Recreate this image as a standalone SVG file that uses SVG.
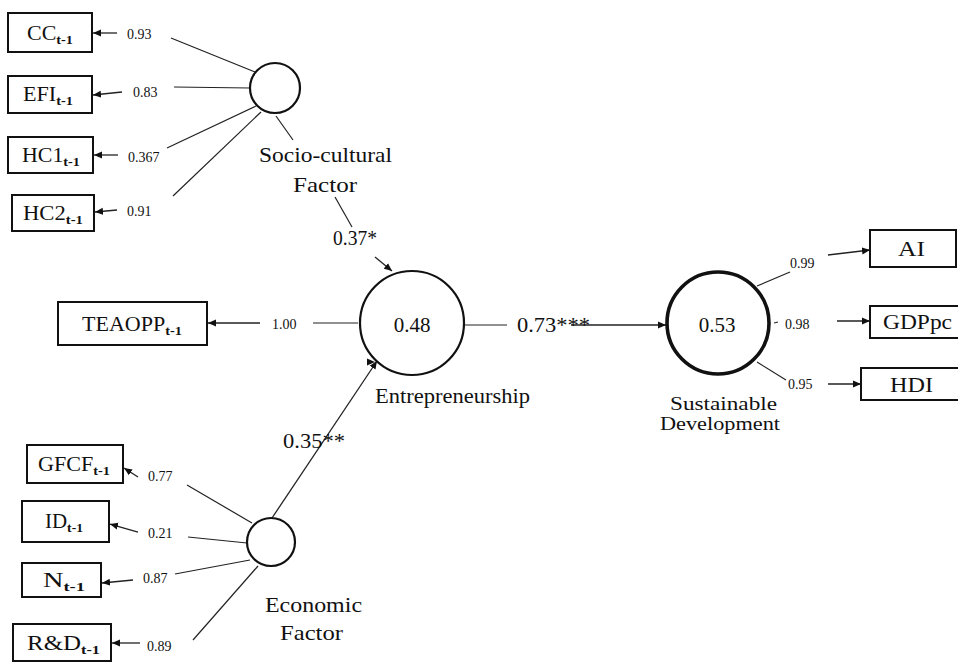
<svg xmlns="http://www.w3.org/2000/svg" width="958" height="663" viewBox="0 0 958 663">
<style>
.box{fill:#fff;stroke:#111;stroke-width:2}
.lat{fill:#fff;stroke:#111;stroke-width:2.2}
.latb{fill:#fff;stroke:#111;stroke-width:3.6}
.ln{stroke:#222;stroke-width:1.2;fill:none}
.arr{stroke:#222;stroke-width:1.3;fill:none;marker-end:url(#ah)}
.bt{font-family:"Liberation Serif","Times New Roman",serif;font-size:20px;fill:#111}
.sub{font-size:13px;font-weight:bold}
.sm{font-family:"Liberation Serif","Times New Roman",serif;font-size:14px;fill:#111}
.md{font-family:"Liberation Serif","Times New Roman",serif;font-size:21px;fill:#111}
</style>
<defs>
<marker id="ah" markerWidth="9" markerHeight="8" refX="8" refY="4" orient="auto" markerUnits="userSpaceOnUse">
<path d="M0,0.5 L8,4 L0,7.5 Z" fill="#111"/>
</marker>
</defs>
<rect width="958" height="663" fill="#fff"/>
<g id="connectors">
<!-- socio-cultural -->
<line class="arr" x1="117" y1="33" x2="93" y2="33"/>
<line class="ln" x1="171" y1="38" x2="255" y2="72"/>
<line class="arr" x1="122" y1="92" x2="93" y2="95"/>
<line class="ln" x1="174" y1="87" x2="250" y2="88"/>
<line class="arr" x1="118" y1="155" x2="94" y2="155"/>
<line class="ln" x1="167" y1="148" x2="256" y2="106"/>
<line class="arr" x1="117" y1="210" x2="95" y2="212"/>
<line class="ln" x1="173" y1="196" x2="261" y2="112"/>
<line class="ln" x1="276" y1="116" x2="293" y2="140"/>
<line class="ln" x1="335" y1="197" x2="352" y2="227"/>
<line class="arr" x1="375" y1="257" x2="392" y2="271"/>
<!-- TEAOPP -->
<line class="arr" x1="260" y1="323" x2="208" y2="323"/>
<line class="ln" x1="313" y1="323" x2="358" y2="323"/>
<!-- entre to SD -->
<line class="ln" x1="465" y1="325" x2="507" y2="325"/>
<line class="arr" x1="571" y1="325" x2="666" y2="325"/>
<!-- SD indicators -->
<line class="ln" x1="757" y1="286" x2="790" y2="272"/>
<line class="arr" x1="828" y1="255" x2="870" y2="250"/>
<line class="ln" x1="774" y1="323" x2="778" y2="322"/>
<line class="arr" x1="837" y1="321" x2="870" y2="321"/>
<line class="ln" x1="757" y1="362" x2="786" y2="380"/>
<line class="arr" x1="828" y1="384" x2="861" y2="384"/>
<!-- economic -->
<line class="arr" x1="375" y1="362" x2="375" y2="362"/>
<line class="arr" x1="272" y1="518" x2="377" y2="361"/>
<line class="arr" x1="138" y1="477" x2="124" y2="468"/>
<line class="ln" x1="187" y1="485" x2="252" y2="523"/>
<line class="arr" x1="138" y1="532" x2="110" y2="524"/>
<line class="ln" x1="188" y1="537" x2="247" y2="543"/>
<line class="arr" x1="133" y1="580" x2="102" y2="583"/>
<line class="ln" x1="175" y1="574" x2="250" y2="560"/>
<line class="arr" x1="140" y1="643" x2="112" y2="643"/>
<line class="ln" x1="193" y1="640" x2="258" y2="566"/>
</g>
<g id="labels">
<text class="sm" x="127" y="39">0.93</text>
<text class="sm" x="133" y="97">0.83</text>
<text class="sm" x="128" y="162">0.367</text>
<text class="sm" x="127" y="216">0.91</text>
<text class="md" x="333" y="245" textLength="44" lengthAdjust="spacingAndGlyphs">0.37*</text>
<text class="sm" x="272" y="329">1.00</text>
<text class="md" x="517" y="332" textLength="73" lengthAdjust="spacingAndGlyphs">0.73***</text>
<text class="sm" x="790" y="268">0.99</text>
<text class="sm" x="785" y="329">0.98</text>
<text class="sm" x="788" y="389">0.95</text>
<text class="md" x="283" y="448" textLength="62" lengthAdjust="spacingAndGlyphs">0.35**</text>
<text class="sm" x="148" y="481">0.77</text>
<text class="sm" x="148" y="538">0.21</text>
<text class="sm" x="143" y="583">0.87</text>
<text class="sm" x="147" y="651">0.89</text>
</g>
<g id="CC"><rect class="box" x="8" y="13" width="84" height="39"/><text class="bt" x="27" y="40" textLength="46" lengthAdjust="spacingAndGlyphs">CC<tspan class="sub" dy="4">t-1</tspan></text></g>
<g id="EFI"><rect class="box" x="8" y="76" width="84" height="37"/><text class="bt" x="23" y="101" textLength="50" lengthAdjust="spacingAndGlyphs">EFI<tspan class="sub" dy="4">t-1</tspan></text></g>
<g id="HC1"><rect class="box" x="8" y="137" width="85" height="36"/><text class="bt" x="22" y="162" textLength="58" lengthAdjust="spacingAndGlyphs">HC1<tspan class="sub" dy="4">t-1</tspan></text></g>
<g id="HC2"><rect class="box" x="12" y="195" width="82" height="36"/><text class="bt" x="23" y="220" textLength="60" lengthAdjust="spacingAndGlyphs">HC2<tspan class="sub" dy="4">t-1</tspan></text></g>
<g id="socio"><circle class="lat" cx="275" cy="88" r="25"/>
<text class="md" x="259" y="162" textLength="133" lengthAdjust="spacingAndGlyphs">Socio-cultural</text>
<text class="md" x="293" y="192" textLength="64" lengthAdjust="spacingAndGlyphs">Factor</text></g>
<g id="TEAOPP"><rect class="box" x="58" y="302" width="149" height="43"/><text class="bt" x="82" y="331" textLength="100" lengthAdjust="spacingAndGlyphs">TEAOPP<tspan class="sub" dy="4">t-1</tspan></text></g>
<g id="entrepreneurship"><circle class="lat" cx="412" cy="323" r="52"/>
<text class="md" x="412" y="332" text-anchor="middle">0.48</text>
<text class="md" x="375" y="403" textLength="155" lengthAdjust="spacingAndGlyphs">Entrepreneurship</text></g>
<g id="sustainable"><circle class="latb" cx="718" cy="323" r="51"/>
<text class="md" x="717" y="332" text-anchor="middle">0.53</text>
<text class="md" x="670" y="410" textLength="107" lengthAdjust="spacingAndGlyphs" style="font-size:19px">Sustainable</text>
<text class="md" x="660" y="430" textLength="120" lengthAdjust="spacingAndGlyphs" style="font-size:19px">Development</text></g>
<g id="AI"><rect class="box" x="870" y="230" width="86" height="37"/><text class="bt" x="898" y="256" textLength="27" lengthAdjust="spacingAndGlyphs">AI</text></g>
<g id="GDPpc"><rect class="box" x="870" y="306" width="92" height="32"/><text class="bt" x="883" y="329" textLength="69" lengthAdjust="spacingAndGlyphs">GDPpc</text></g>
<g id="HDI"><rect class="box" x="861" y="368" width="100" height="32"/><text class="bt" x="890" y="392" textLength="43" lengthAdjust="spacingAndGlyphs">HDI</text></g>
<g id="economic"><circle class="lat" cx="271" cy="542" r="24"/>
<text class="md" x="265" y="612" textLength="97" lengthAdjust="spacingAndGlyphs">Economic</text>
<text class="md" x="280" y="640" textLength="63" lengthAdjust="spacingAndGlyphs">Factor</text></g>
<g id="GFCF"><rect class="box" x="27" y="445" width="96" height="38"/><text class="bt" x="38" y="471" textLength="72" lengthAdjust="spacingAndGlyphs">GFCF<tspan class="sub" dy="4">t-1</tspan></text></g>
<g id="ID"><rect class="box" x="22" y="501" width="87" height="41"/><text class="bt" x="45" y="528" textLength="38" lengthAdjust="spacingAndGlyphs">ID<tspan class="sub" dy="4">t-1</tspan></text></g>
<g id="N"><rect class="box" x="22" y="563" width="79" height="34"/><text class="bt" x="43" y="587" textLength="42" lengthAdjust="spacingAndGlyphs">N<tspan class="sub" dy="4">t-1</tspan></text></g>
<g id="RD"><rect class="box" x="13" y="624" width="98" height="37"/><text class="bt" x="27" y="650" textLength="73" lengthAdjust="spacingAndGlyphs">R&amp;D<tspan class="sub" dy="4">t-1</tspan></text></g>
</svg>
